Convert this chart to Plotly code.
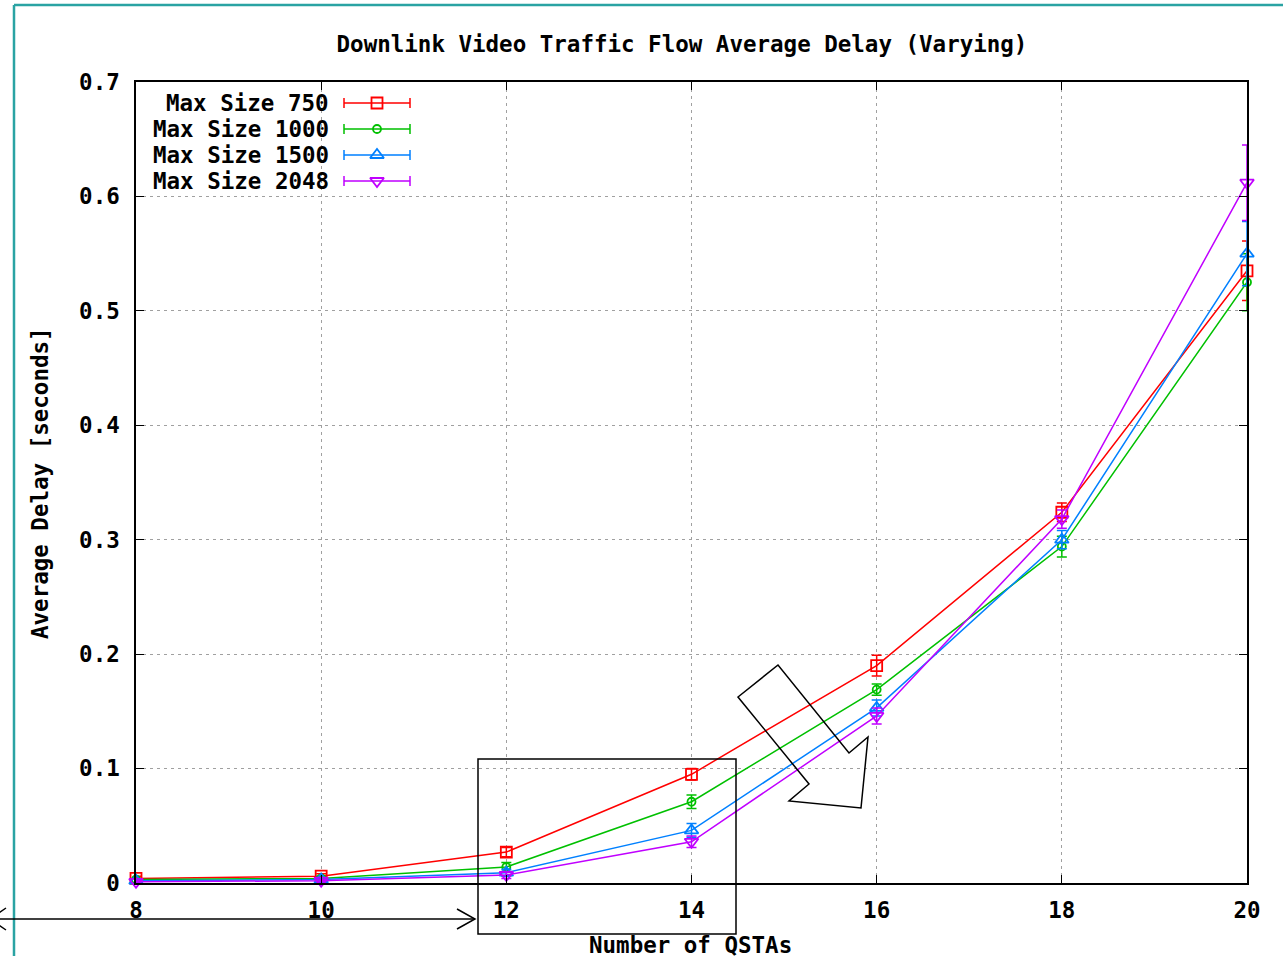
import plotly.graph_objects as go

# ---------------- data ----------------
qstas = [8, 10, 12, 14, 16, 18, 20]

delay_750 = [0.004, 0.006, 0.027, 0.095, 0.190, 0.324, 0.535]
err_750 = [0.002, 0.002, 0.004, 0.005, 0.009, 0.008, 0.026]

delay_1000 = [0.003, 0.004, 0.014, 0.071, 0.169, 0.294, 0.525]
err_1000 = [0.001, 0.002, 0.004, 0.006, 0.005, 0.009, 0.025]

delay_1500 = [0.002, 0.003, 0.009, 0.046, 0.153, 0.300, 0.550]
err_1500 = [0.001, 0.001, 0.003, 0.006, 0.007, 0.008, 0.028]

delay_2048 = [0.001, 0.002, 0.007, 0.036, 0.146, 0.318, 0.612]
err_2048 = [0.001, 0.001, 0.003, 0.005, 0.007, 0.008, 0.033]

series_names = ["Max Size 750", "Max Size 1000", "Max Size 1500", "Max Size 2048"]
y_ticks = [0, 0.1, 0.2, 0.3, 0.4, 0.5, 0.6, 0.7]
y_tick_text = ["0", "0.1", "0.2", "0.3", "0.4", "0.5", "0.6", "0.7"]
x_ticks = [8, 10, 12, 14, 16, 18, 20]

# ---------------- styles ----------------
colors = ["#ff0000", "#00c000", "#0080ff", "#c000ff"]
symbols = ["square-open", "circle-open", "triangle-up-open", "triangle-down-open"]
sizes = [11, 8, 12, 12]
FONT = "DejaVu Sans Mono"
FS = 22.5
W, H = 1283, 957
L, R, T, B = 136, 36, 82, 74
PW, PH = W - L - R, H - T - B
BOTTOM = H - B


def px(p):
    return (p - L) / PW


def py(p):
    return (BOTTOM - p) / PH


def dx(p):
    return 8 + (p - L) / PW * 12


def dy(p):
    return (BOTTOM - p) / PH * 0.7


def fnt(size=FS):
    return dict(family=FONT, size=size, color="black", weight="bold")


fig = go.Figure()

all_series = [(delay_750, err_750), (delay_1000, err_1000),
              (delay_1500, err_1500), (delay_2048, err_2048)]
for i, (vals, errs) in enumerate(all_series):
    fig.add_trace(go.Scatter(
        x=qstas, y=vals, mode="lines+markers", name=series_names[i],
        line=dict(color=colors[i], width=1.5),
        marker=dict(symbol=symbols[i], size=sizes[i], color=colors[i],
                    line=dict(width=1.8, color=colors[i])),
        error_y=dict(type="data", array=errs, visible=True, color=colors[i],
                     thickness=1.5, width=5),
        cliponaxis=False, showlegend=False,
    ))

# custom gnuplot-style legend (text on left, sample on right)
leg_rows = [103, 129, 155, 181]
for i, name in enumerate(series_names):
    fig.add_annotation(x=px(331), y=py(leg_rows[i]), xref="paper", yref="paper",
                       text=name, showarrow=False, xanchor="right", yanchor="middle",
                       font=fnt())
    fig.add_trace(go.Scatter(
        x=[dx(377)], y=[dy(leg_rows[i])], mode="markers",
        marker=dict(symbol=symbols[i], size=sizes[i], color=colors[i],
                    line=dict(width=1.8, color=colors[i])),
        error_x=dict(type="constant", value=dx(410) - dx(377), visible=True,
                     color=colors[i], thickness=1.5, width=5),
        cliponaxis=False, showlegend=False, hoverinfo="skip",
    ))

# axis titles as annotations (exact placement)
fig.add_annotation(x=px(690), y=py(945), xref="paper", yref="paper",
                   text="Number of QSTAs", showarrow=False,
                   xanchor="center", yanchor="middle", font=fnt())
fig.add_annotation(x=px(40), y=py(483), xref="paper", yref="paper",
                   text="Average Delay [seconds]", showarrow=False, textangle=-90,
                   xanchor="center", yanchor="middle", font=fnt())

shapes = []
# teal page frame
shapes.append(dict(type="line", xref="paper", yref="paper", x0=px(14), x1=px(1283),
                   y0=py(5), y1=py(5), line=dict(color="#2aa3a3", width=2.5)))
shapes.append(dict(type="line", xref="paper", yref="paper", x0=px(14), x1=px(14),
                   y0=py(5), y1=py(956), line=dict(color="#2aa3a3", width=2.5)))
# rectangle annotation
shapes.append(dict(type="rect", xref="paper", yref="paper", x0=px(478), x1=px(736),
                   y0=py(759), y1=py(934), line=dict(color="black", width=1.5)))
# horizontal double arrow
shapes.append(dict(type="line", xref="paper", yref="paper", x0=px(0), x1=px(475),
                   y0=py(919), y1=py(919), line=dict(color="black", width=1.5)))
shapes.append(dict(type="path", xref="paper", yref="paper",
                   path=f"M {px(457)} {py(909)} L {px(475)} {py(919)} L {px(457)} {py(929)}",
                   line=dict(color="black", width=1.5)))
shapes.append(dict(type="path", xref="paper", yref="paper",
                   path=f"M {px(6)} {py(908)} L {px(-10)} {py(919)} L {px(6)} {py(930)}",
                   line=dict(color="black", width=1.5)))
# block arrow
arrow_pts = [(738, 697), (778, 665), (849, 753), (868, 737), (861, 808), (789, 801), (809, 784)]
path = "M " + " L ".join(f"{px(a)} {py(b)}" for a, b in arrow_pts) + " Z"
shapes.append(dict(type="path", xref="paper", yref="paper", path=path,
                   line=dict(color="black", width=1.5), fillcolor="rgba(0,0,0,0)"))

fig.update_layout(
    width=W, height=H,
    margin=dict(l=L, r=R, t=T, b=B, autoexpand=False),
    paper_bgcolor="white", plot_bgcolor="white",
    shapes=shapes,
    title=dict(text="Downlink Video Traffic Flow Average Delay (Varying)",
               x=px(682), xref="paper", xanchor="center", y=1 - 44 / H, yanchor="middle",
               font=fnt()),
    font=fnt(),
)
fig.update_xaxes(
    range=[8, 20], tickvals=x_ticks, ticktext=[str(v) for v in x_ticks],
    showline=True, linecolor="black", linewidth=1.5, mirror="allticks",
    ticks="inside", ticklen=8, tickcolor="black",
    showgrid=True, gridcolor="#a0a0a0", griddash="3px,4px", gridwidth=1,
    zeroline=False, ticklabelstandoff=6, automargin=False,
    tickfont=fnt(),
)
fig.update_yaxes(
    range=[0, 0.7], tickvals=y_ticks, ticktext=y_tick_text,
    showline=True, linecolor="black", linewidth=1.5, mirror="allticks",
    ticks="inside", ticklen=8, tickcolor="black",
    showgrid=True, gridcolor="#a0a0a0", griddash="3px,4px", gridwidth=1,
    zeroline=False, ticklabelstandoff=10, automargin=False,
    tickfont=fnt(),
)

fig.write_html("out.html")
